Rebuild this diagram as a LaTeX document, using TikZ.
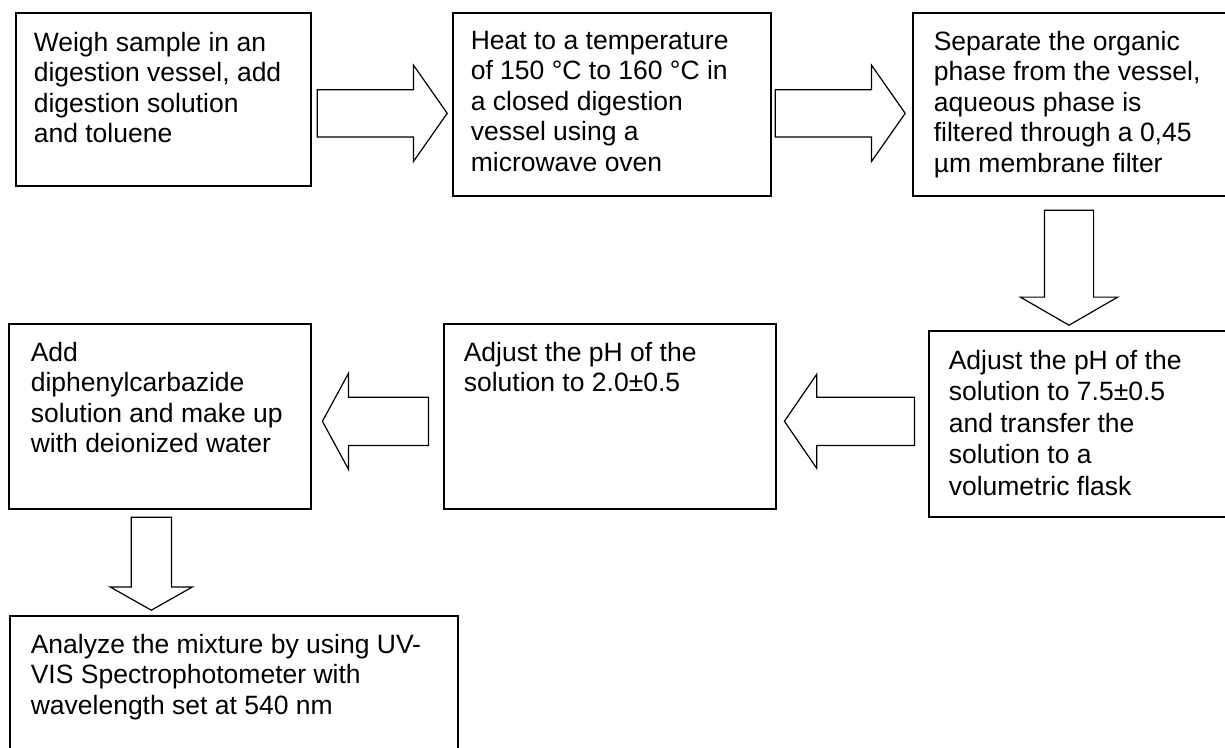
\documentclass[tikz,border=0pt]{standalone}
\usepackage{fontspec}
\setmainfont{Liberation Sans}
\usepackage{tikz}
\usetikzlibrary{calc}
\usetikzlibrary{shapes.arrows}

\begin{document}
\begin{tikzpicture}[x=1pt,y=-1pt,line width=1.6pt,
  procbox/.style={draw,rectangle,anchor=north west,inner sep=0pt},
  proctext/.style={anchor=north west,inner sep=0pt,align=left,font=\fontsize{26.5}{30.5}\selectfont},
  blockarrow/.style={draw,single arrow,anchor=tail,inner xsep=0pt,inner ysep=23pt,line width=1.2pt,single arrow head indent=0pt}]
\clip (0,0) rectangle (1225,747);
  % top row
  \node[procbox,minimum width=295pt,minimum height=173pt] at (15,12) (b1){};
  \node[procbox,minimum width=318pt,minimum height=183pt] at (452,12) (b2){};
  \node[procbox,minimum width=330pt,minimum height=183pt] at (912,12) (b3){};
  \node[proctext] at ($(b1.north west)+(18,19)$) (t1) {Weigh sample in an\\digestion vessel, add\\digestion solution\\and toluene};
  \node[proctext] at ($(b2.north west)+(18,18)$) (t2) {Heat to a temperature\\of 150 °C to 160 °C in\\a closed digestion\\vessel using a\\microwave oven};
  \node[proctext] at ($(b3.north west)+(21,18)$) (t3) {Separate the organic\\phase from the vessel,\\aqueous phase is\\filtered through a 0,45\\µm membrane filter};

  % second row
  \node[procbox,minimum width=320pt,minimum height=186pt] at (928,330) (b4){};
  \node[procbox,minimum width=332pt,minimum height=185pt] at (443,323) (b5){};
  \node[procbox,minimum width=302pt,minimum height=185pt] at (8,323) (b6){};
  \node[proctext,font=\fontsize{26.5}{31.6}\selectfont] at ($(b4.north west)+(20,19)$) (t4) {Adjust the pH of the\\solution to 7.5±0.5\\and transfer the\\solution to a\\volumetric flask};
  \node[proctext] at ($(b5.north west)+(20,18)$) (t5) {Adjust the pH of the\\solution to 2.0±0.5};
  \node[proctext] at ($(b6.north west)+(22,18)$) (t6) {Add\\diphenylcarbazide\\solution and make up\\with deionized water};

  % last step
  \node[procbox,minimum width=448pt,minimum height=150pt] at (9,615) (b7){};
  \node[proctext] at ($(b7.north west)+(21,18)$) (t7) {Analyze the mixture by using UV-\\VIS Spectrophotometer with\\wavelength set at 540 nm};

  % block arrows
  \node[blockarrow,minimum height=130pt,single arrow head extend=24.5pt,single arrow tip angle=110] at ($(b1.east)+(5,14)$) (a12){};
  \node[blockarrow,minimum height=130pt,single arrow head extend=24.5pt,single arrow tip angle=110] at ($(b2.east)+(3,9)$) (a23){};
  \node[blockarrow,rotate=-90,minimum height=115pt,inner ysep=24pt,single arrow head extend=24pt,single arrow tip angle=120] at ($(b3.south west)+(157,13)$) (a34){};
  \node[blockarrow,rotate=180,minimum height=130pt,inner ysep=23.5pt,single arrow head extend=23pt,single arrow tip angle=111] at ($(b4.west)+(-13,-2.5)$) (a45){};
  \node[blockarrow,rotate=180,minimum height=106pt,inner ysep=23.5pt,single arrow head extend=24pt,single arrow tip angle=123] at ($(b5.west)+(-14,5)$) (a56){};
  \node[blockarrow,rotate=-90,minimum height=93pt,inner ysep=19.5pt,single arrow head extend=21pt,single arrow tip angle=121] at ($(b6.south)+(-8.5,7)$) (a67){};
\end{tikzpicture}
\end{document}
